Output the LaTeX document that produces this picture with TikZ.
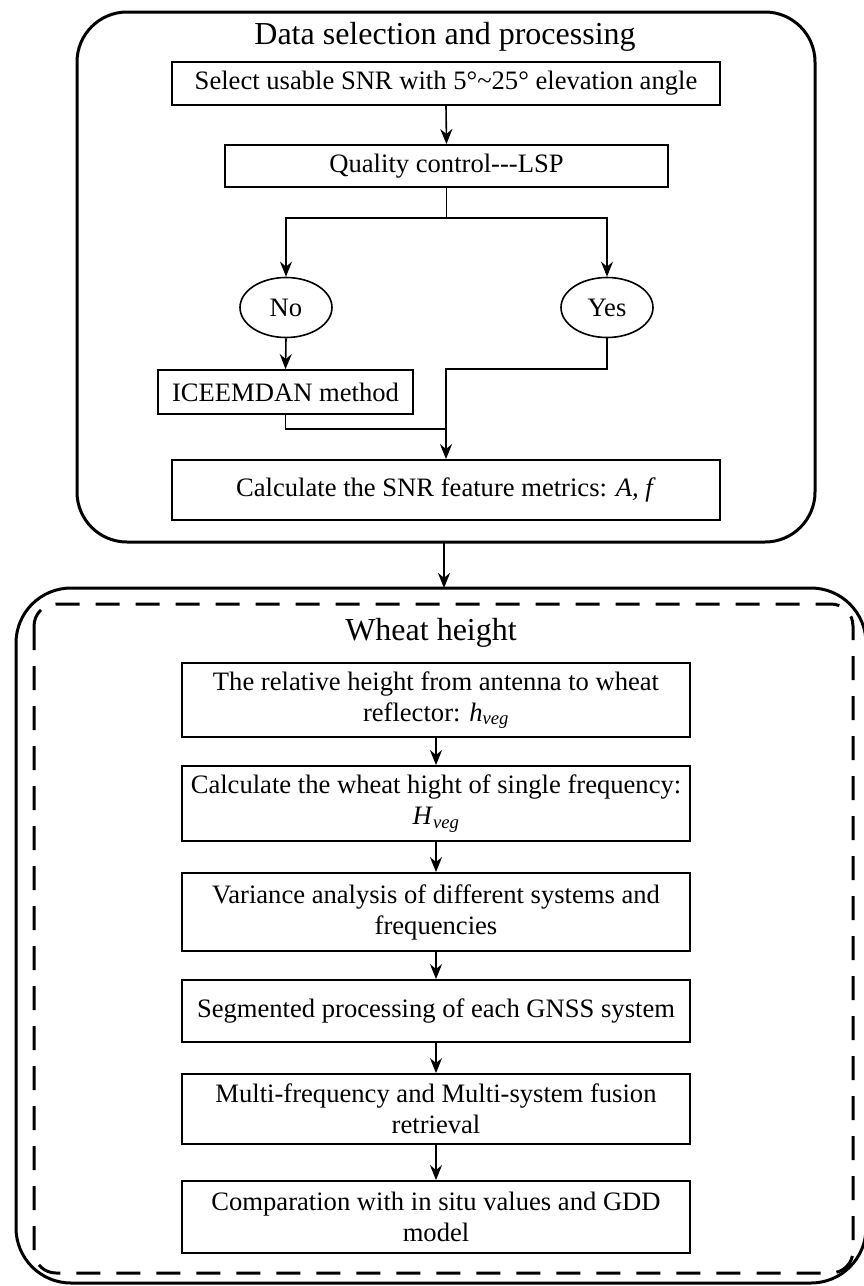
\documentclass[tikz,border=0pt]{standalone}
\usepackage{fontspec}
\setmainfont{Liberation Serif}
\usetikzlibrary{arrows.meta,shapes.geometric}
\begin{document}
\begin{tikzpicture}[x=1pt,y=-1pt,
  box/.style={draw,line width=1.8pt,align=center,inner sep=0pt,font=\fontsize{26.6}{31}\selectfont},
  oval/.style={draw,ellipse,line width=1.6pt,inner sep=0pt,minimum width=92pt,minimum height=60pt,font=\fontsize{26.6}{30}\selectfont},
  ttl/.style={font=\fontsize{32}{36}\selectfont,inner sep=0pt},
  arr/.style={line width=1.6pt,-{Stealth[length=15pt,width=12pt]}},
  ln/.style={line width=1.6pt}]
\useasboundingbox (0,0) rectangle (864,1286);
% top group
\draw[line width=3pt,rounded corners=50pt] (77,12) rectangle (815,542);
\node[ttl] (t1) at (445,37) {Data selection and processing};
\node[box,minimum width=548pt,minimum height=43pt] (b1) at (446,83.5) {Select usable SNR with 5°\textasciitilde25° elevation angle};
\node[box,minimum width=443pt,minimum height=42pt] (b2) at (446.5,166) {Quality control-{}-{}-LSP};
\node[oval] (no) at (286,307.5) {No};
\node[oval] (yes) at (607,307.5) {Yes};
\node[box,minimum width=255pt,minimum height=44pt] (ice) at (285.5,392) {ICEEMDAN method};
\node[box,minimum width=548pt,minimum height=60pt] (calc) at (446,490) {Calculate the SNR feature metrics: \textit{A, f}};
\coordinate (split) at (446.5,218);
\coordinate (join) at (446,429);
\draw[arr] (b1.south) -- (b2.north);
\draw[ln] (b2.south) -- (split);
\draw[arr] (split) -| (no.north);
\draw[arr] (split) -| (yes.north);
\draw[arr] (no.south) -- (ice.north);
\draw[ln] (ice.south) |- (join);
\draw[arr] (yes.south) |- (446,369) -- (calc.north);
% bottom group
\coordinate (topbot) at (444,542);
\draw[line width=3pt,rounded corners=55pt] (16,588) rectangle (866,1283);
\coordinate (bottop) at (444,588);
\draw[line width=2.5pt,-{Stealth[length=15pt,width=12pt]}] (topbot) -- (bottop);
\draw[line width=3pt,dash pattern=on 24pt off 16pt,rounded corners=22pt] (34,604) rectangle (853,1273);
\node[ttl] (t2) at (431,633) {Wheat height};
\node[box,minimum width=508pt,minimum height=74pt] (A) at (436,700) {The relative height from antenna to wheat\\reflector: \textit{h}\textsubscript{\textit{veg}}};
\node[box,minimum width=508pt,minimum height=75pt] (B) at (436,803.5) {Calculate the wheat hight of single frequency:\\\textit{H}\textsubscript{\textit{veg}}};
\node[box,minimum width=508pt,minimum height=78pt] (C) at (436,912) {Variance analysis of different systems and\\frequencies};
\node[box,minimum width=508pt,minimum height=62pt] (D) at (436,1011) {Segmented processing of each GNSS system};
\node[box,minimum width=508pt,minimum height=70pt] (E) at (436,1109) {Multi-frequency and Multi-system fusion\\retrieval};
\node[box,minimum width=508pt,minimum height=72pt] (F) at (436,1217) {Comparation with in situ values and GDD\\model};
\draw[arr] (A) -- (B);
\draw[arr] (B) -- (C);
\draw[arr] (C) -- (D);
\draw[arr] (D) -- (E);
\draw[arr] (E) -- (F);
\end{tikzpicture}
\end{document}
